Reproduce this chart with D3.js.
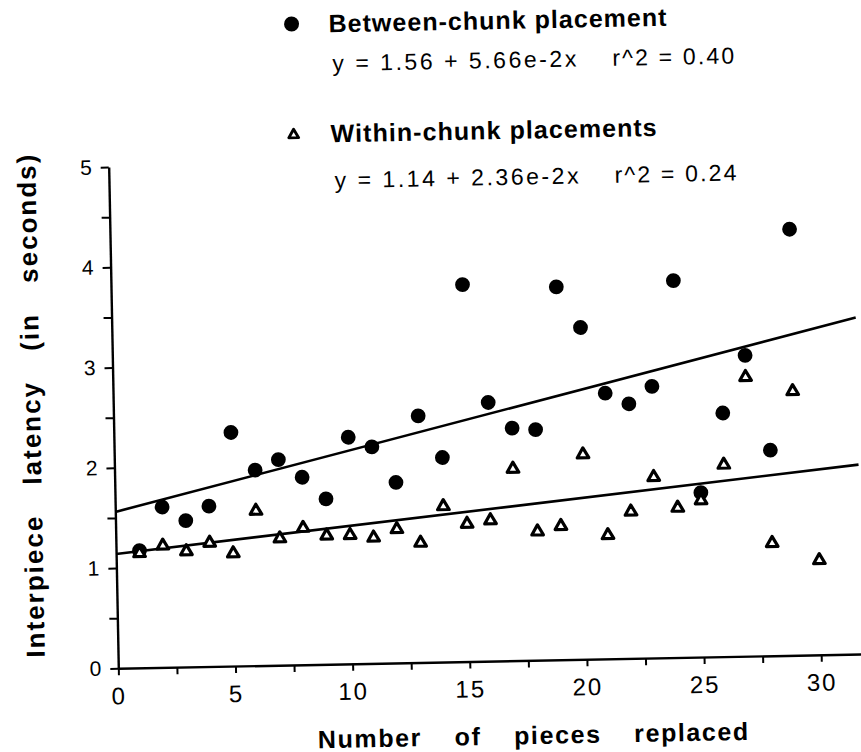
<!DOCTYPE html>
<html>
<head>
<meta charset="utf-8">
<script src="https://cdn.jsdelivr.net/npm/d3@7/dist/d3.min.js"></script>
<style>
  html, body { margin: 0; padding: 0; background: #ffffff; }
  svg { display: block; }
  text { fill: #000; }
</style>
</head>
<body>
<script>
// ---------------- DATA ----------------
const betweenX = [1,2,3,4,5,6,7,8,9,10,11,12,13,14,15,16,17,18,19,20,21,22,23,24,25,26,27,28,29];
const betweenY = [1.17,1.60,1.46,1.60,2.33,1.95,2.05,1.87,1.65,2.26,2.16,1.80,2.46,2.04,3.76,2.58,2.32,2.30,3.72,3.31,2.65,2.54,2.71,3.76,1.64,2.43,3.00,2.05,4.25];

const withinX = [1,2,3,4,5,6,7,8,9,10,11,12,13,14,15,16,17,18,19,20,21,22,23,24,25,26,27,28,29,30];
const withinY = [1.16,1.23,1.17,1.25,1.14,1.56,1.28,1.38,1.30,1.30,1.27,1.35,1.21,1.57,1.39,1.42,1.93,1.30,1.35,2.06,1.25,1.48,1.82,1.51,1.58,1.93,2.80,1.14,2.65,0.96];

const fitIntercepts = [1.56, 1.14];
const fitSlopes = [0.0566, 0.0236];

const seriesNames = ["Between-chunk placement", "Within-chunk placements"];
const fitLabels = ["y = 1.56 + 5.66e-2x", "y = 1.14 + 2.36e-2x"];
const r2Labels = ["r^2 = 0.40", "r^2 = 0.24"];

const xTickLabels = [0, 5, 10, 15, 20, 25, 30];
const xMinorTicks = [2.5, 7.5, 12.5, 17.5, 22.5, 27.5];
const yTickLabels = [0, 1, 2, 3, 4, 5];
const yMinorTicks = [0.5, 1.5, 2.5, 3.5, 4.5];

const xTitle = "Number of pieces replaced";
const yTitle = "Interpiece latency (in seconds)";

// ---------------- LAYOUT ----------------
const W = 861, H = 752;
const ox = 118.3, oy = 668.3;     // plot origin
const unitX = 703 / 30;            // px per x unit
const xMax = 31.75;                // axis runs to the right edge
const tilt = -1.1;                 // scanned page is slightly rotated
const FONT = "'Liberation Sans', Arial, Helvetica, sans-serif";
const FONT_NARROW = "'Liberation Sans Narrow', 'Liberation Sans', Arial, sans-serif";

const svg = d3.select("body").append("svg")
  .attr("width", W).attr("height", H)
  .attr("viewBox", `0 0 ${W} ${H}`);

svg.append("rect").attr("width", W).attr("height", H).attr("fill", "#fff");

const x = d3.scaleLinear().domain([0, xMax]).range([ox, ox + xMax * unitX]);
const y = d3.scaleLinear().domain([0, 5]).range([oy, 167]);

const plot = svg.append("g").attr("transform", `rotate(${tilt},${ox},${oy})`);

// y axis
const yAxis = d3.axisLeft(y)
  .tickValues(yTickLabels.concat(yMinorTicks).sort((a, b) => a - b))
  .tickSize(8).tickSizeOuter(0).tickPadding(9)
  .tickFormat(d => yTickLabels.includes(d) ? String(d) : "");
const gy = plot.append("g").attr("transform", `translate(${ox},0)`).call(yAxis);
gy.select(".domain").attr("stroke", "#000").attr("stroke-width", 2.4);
gy.selectAll(".tick line").attr("stroke", "#000").attr("stroke-width", 2);
gy.selectAll(".tick text").attr("font-family", FONT).attr("font-size", 21)
  .attr("fill", "#000");

// x axis
const xAxis = d3.axisBottom(x)
  .tickValues(xTickLabels.concat(xMinorTicks).sort((a, b) => a - b))
  .tickSize(7).tickSizeOuter(0).tickPadding(12)
  .tickFormat(d => xTickLabels.includes(d) ? String(d) : "");
const gx = plot.append("g").attr("transform", `translate(0,${oy})`).call(xAxis);
gx.select(".domain").attr("stroke", "#000").attr("stroke-width", 2.4);
gx.selectAll(".tick line").attr("stroke", "#000").attr("stroke-width", 2);
gx.selectAll(".tick text").attr("font-family", FONT).attr("font-size", 24)
  .attr("letter-spacing", "2px").attr("fill", "#000");

// regression lines
const fits = fitIntercepts.map((b, i) => [[0, b], [xMax, b + fitSlopes[i] * xMax]]);
const line = d3.line().x(d => x(d[0])).y(d => y(d[1]));
plot.selectAll("path.fit").data(fits).join("path")
  .attr("class", "fit")
  .attr("d", line)
  .attr("fill", "none").attr("stroke", "#000").attr("stroke-width", 2.6);

// markers
const betweenData = betweenX.map((v, i) => ({ x: v, y: betweenY[i] }));
const withinData = withinX.map((v, i) => ({ x: v, y: withinY[i] }));

plot.append("g").selectAll("circle").data(betweenData).join("circle")
  .attr("cx", d => x(d.x)).attr("cy", d => y(d.y)).attr("r", 7.4)
  .attr("fill", "#000");

const triPath = "M0,-5.6 L5.8,4.4 L-5.8,4.4 Z";
plot.append("g").selectAll("path").data(withinData).join("path")
  .attr("d", triPath)
  .attr("transform", d => `translate(${x(d.x)},${y(d.y) + 0.6})`)
  .attr("fill", "#fff").attr("stroke", "#000").attr("stroke-width", 3.2)
  .attr("stroke-linejoin", "round");

// ---------------- AXIS TITLES ----------------
function fitWords(sel, target) {
  const node = sel.node();
  const len = node.getComputedTextLength();
  const nSpaces = (sel.text().match(/ /g) || []).length;
  if (nSpaces > 0) sel.style("word-spacing", ((target - len) / nSpaces) + "px");
}

const xt = svg.append("text")
  .attr("transform", `translate(534,744) rotate(${tilt})`)
  .attr("text-anchor", "middle")
  .attr("font-family", FONT).attr("font-weight", "bold").attr("font-size", 25)
  .style("letter-spacing", "1.6px")
  .text(xTitle);
fitWords(xt, 432);

const yt = svg.append("text")
  .attr("transform", `translate(40,405) rotate(${-90 + tilt})`)
  .attr("text-anchor", "middle")
  .attr("font-family", FONT).attr("font-weight", "bold").attr("font-size", 26)
  .style("letter-spacing", "2px")
  .text(yTitle);
fitWords(yt, 505);

// ---------------- LEGEND ----------------
const legend = svg.append("g").attr("transform", `rotate(${tilt},293,100)`);
const legRows = [
  { markY: 24, nameY: 33, eqY: 72, nameLen: 338 },
  { markY: 134, nameY: 143, eqY: 189, nameLen: 326 }
];

legend.append("circle").attr("cx", 293).attr("cy", legRows[0].markY).attr("r", 7.5).attr("fill", "#000");
legend.append("path").attr("d", triPath)
  .attr("transform", `translate(293,${legRows[1].markY}) scale(0.85)`)
  .attr("fill", "#fff").attr("stroke", "#000").attr("stroke-width", 3.4)
  .attr("stroke-linejoin", "round");

seriesNames.forEach((name, i) => {
  const r = legRows[i];
  legend.append("text")
    .attr("x", 330).attr("y", r.nameY)
    .attr("font-family", FONT_NARROW).attr("font-weight", "bold").attr("font-size", 25)
    .attr("textLength", r.nameLen).attr("lengthAdjust", "spacing")
    .text(name);
  legend.append("text")
    .attr("x", 333).attr("y", r.eqY)
    .attr("font-family", FONT).attr("font-size", 23)
    .attr("textLength", 244).attr("lengthAdjust", "spacing")
    .text(fitLabels[i]);
  legend.append("text")
    .attr("x", 613).attr("y", r.eqY)
    .attr("font-family", FONT).attr("font-size", 23)
    .attr("textLength", 122).attr("lengthAdjust", "spacing")
    .text(r2Labels[i]);
});
</script>
</body>
</html>
